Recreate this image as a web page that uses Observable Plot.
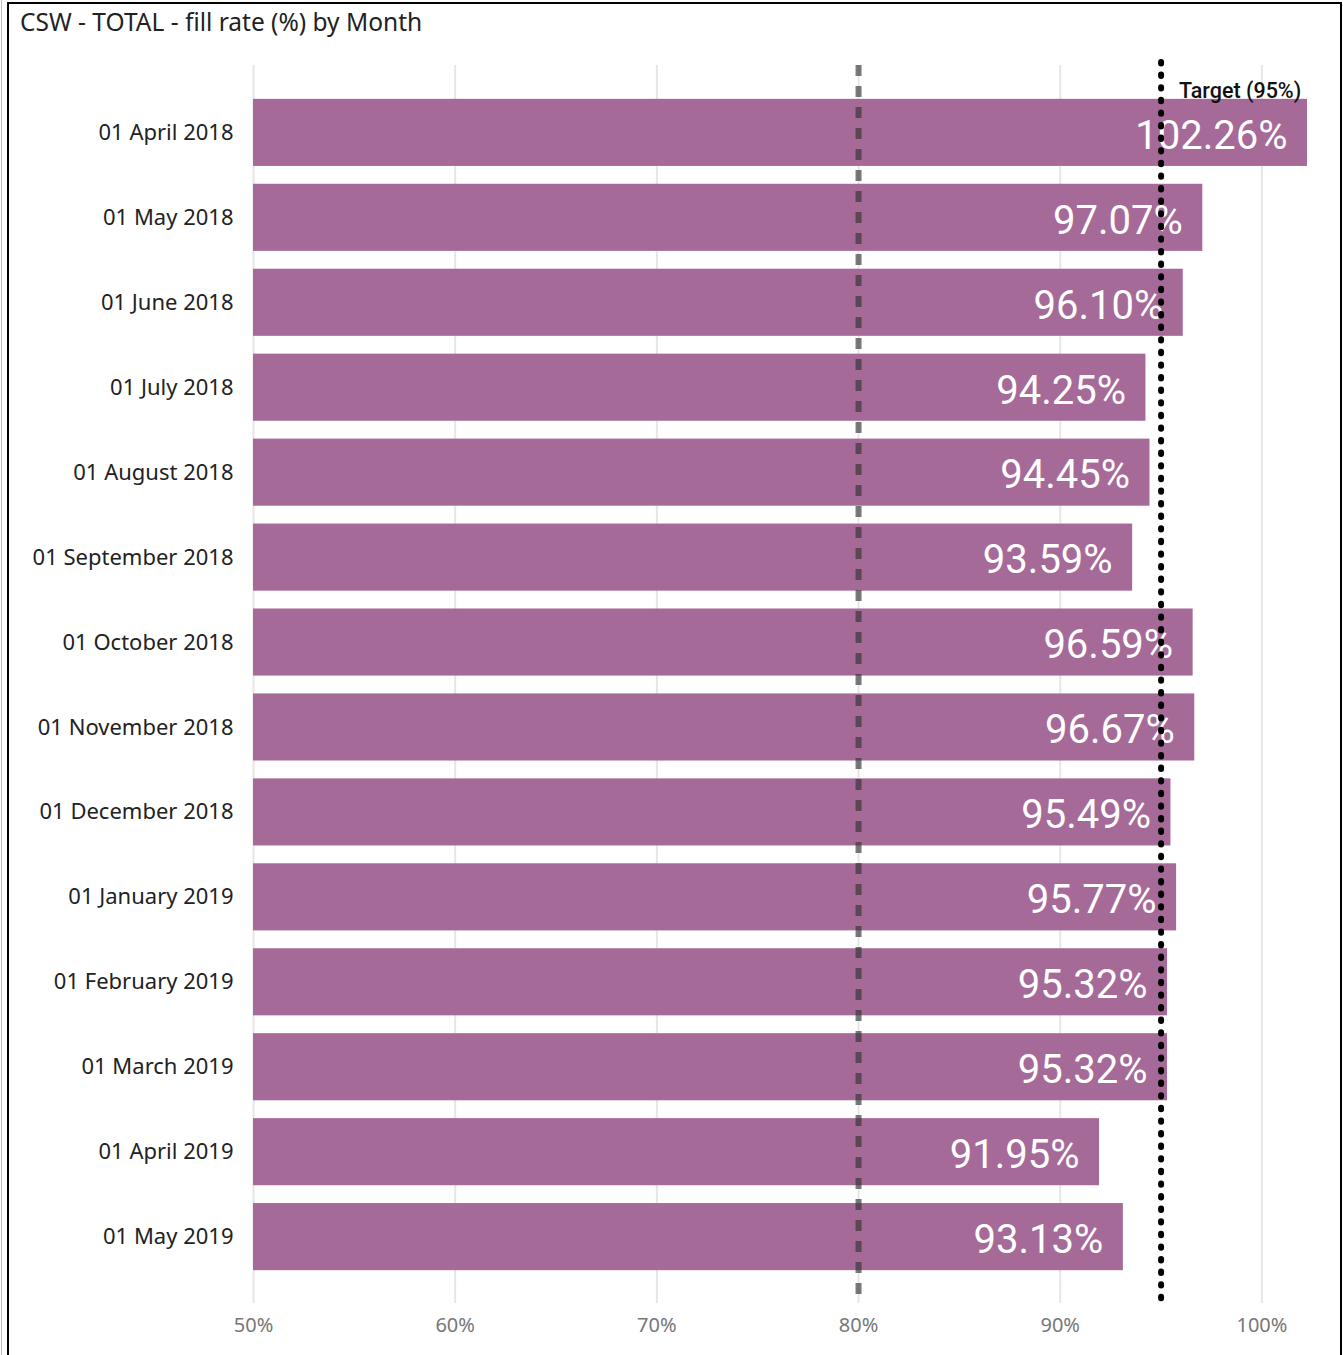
<!DOCTYPE html>
<html>
<head>
<meta charset="utf-8">
<script src="https://cdn.jsdelivr.net/npm/d3@7"></script>
<script src="https://cdn.jsdelivr.net/npm/@observablehq/plot@0.6"></script>
<style>
  html, body { margin: 0; padding: 0; width: 1343px; height: 1355px; overflow: hidden; background: #fff; }
  #frame { position: absolute; left: 7px; top: 2px; width: 1335px; height: 1400px; border: 2px solid #000; box-sizing: border-box; }
  #edge { position: absolute; left: 1px; top: 0; width: 1px; height: 1355px; background: #bbb; }
  #title { position: absolute; left: 20px; top: 5px; font-family: "Noto Sans", sans-serif; font-size: 24.5px; color: #222; white-space: nowrap; }
  #chart { position: absolute; left: 0; top: 40px; }
</style>
</head>
<body>
<div id="edge"></div>
<div id="frame"></div>
<div id="title">CSW - TOTAL - fill rate (%) by Month</div>
<div id="chart"></div>
<script>
const months = ["01 April 2018","01 May 2018","01 June 2018","01 July 2018","01 August 2018","01 September 2018","01 October 2018","01 November 2018","01 December 2018","01 January 2019","01 February 2019","01 March 2019","01 April 2019","01 May 2019"];
const fillRate = [102.26, 97.07, 96.10, 94.25, 94.45, 93.59, 96.59, 96.67, 95.49, 95.77, 95.32, 95.32, 91.95, 93.13];
const xTicks = [50, 60, 70, 80, 90, 100];
const baseline = 50;
const lowerRef = 80;
const target = 95;
const targetLabel = "Target (95%)";

const data = months.map((m, i) => ({month: m, value: fillRate[i]}));

const chart = Plot.plot({
  width: 1343,
  height: 1315,
  marginLeft: 253,
  marginRight: 36,
  marginTop: 25,
  marginBottom: 52,
  style: {fontFamily: "Noto Sans, sans-serif", background: "transparent", overflow: "visible"},
  x: {domain: [baseline, d3.max(fillRate)], ticks: xTicks},
  y: {domain: months, padding: 0.21, round: false, insetTop: 16, insetBottom: 15, label: null},
  marks: [
    Plot.gridX(xTicks, {stroke: "#e6e6e6", strokeOpacity: 1, strokeWidth: 2}),
    Plot.barX(data, {x1: baseline, x2: "value", y: "month", fill: "#a66a99"}),
    Plot.text(data, {x: "value", y: "month", text: d => d.value.toFixed(2) + "%", textAnchor: "end", dx: -20, dy: 3, fill: "#fff", fontSize: 40, fontWeight: 400, fontFamily: "Roboto, sans-serif"}),
    Plot.ruleX([lowerRef], {stroke: "#333", strokeOpacity: 0.65, strokeWidth: 6, strokeDasharray: "11,10"}),
    Plot.ruleX([target], {stroke: "#000", strokeWidth: 6, strokeLinecap: "round", strokeDasharray: "1.4,11.2", insetTop: -3, insetBottom: -2}),
    Plot.text([target], {x: d => d, frameAnchor: "top", text: () => targetLabel, textAnchor: "start", dx: 18, dy: 17, fontSize: 21.5, fontWeight: 500, fill: "#111", fontFamily: "Roboto, sans-serif"}),
    Plot.axisY({tickSize: 0, tickPadding: 20, fontSize: 22, color: "#222", label: null}),
    Plot.axisX(xTicks, {tickSize: 0, tickPadding: 14, fontSize: 20, color: "#777", tickFormat: d => d + "%", label: null})
  ]
});
document.getElementById("chart").appendChild(chart);
</script>
</body>
</html>
